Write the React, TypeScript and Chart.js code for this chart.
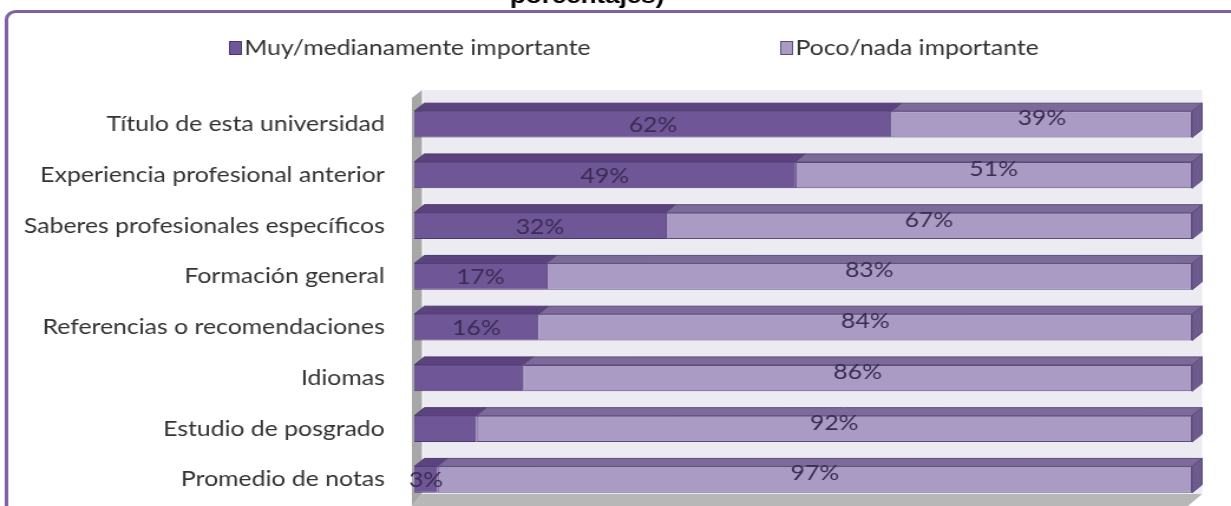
import React, { useEffect, useRef } from "react";
import { Chart, registerables } from "chart.js";

Chart.register(...registerables);

// ---------- data ----------
const categories = [
  "Título de esta universidad",
  "Experiencia profesional anterior",
  "Saberes profesionales específicos",
  "Formación general",
  "Referencias o recomendaciones",
  "Idiomas",
  "Estudio de posgrado",
  "Promedio de notas",
];
const muyValues = [62, 49, 32, 17, 16, 14, 8, 3];
const pocoValues = [39, 51, 67, 83, 84, 86, 92, 97];
const muyLabels = ["62%", "49%", "32%", "17%", "16%", "", "", "3%"];
const pocoLabels = ["39%", "51%", "67%", "83%", "84%", "86%", "92%", "97%"];
const seriesNames = ["Muy/medianamente importante", "Poco/nada importante"];
const titleText = "porcentajes)";

// ---------- styles ----------
// The reference picture is stretched horizontally; the canvas is drawn
// narrower and stretched by CSS to the same ratio.
const VIEW_W = 1231;
const VIEW_H = 506;
const SX = 1.18;
const CANVAS_W = Math.round(VIEW_W / SX);
const FONT = "Lato";
const DX = 8.5;
const DY = -8;
const DARK_FRONT = "#6f5697";
const DARK_TOP = "#5a437f";
const DARK_EDGE = "#4d3a6d";
const LIGHT_FRONT = "#a99bc4";
const LIGHT_TOP = "#7c6b99";
const LIGHT_END = "#6d5b8d";
const LIGHT_EDGE = "#5e4c7f";
const LABEL_COLOR = "#3a2d52";

const totals = muyValues.map((v, i) => v + pocoValues[i]);
const muyShare = muyValues.map((v, i) => (v / totals[i]) * 100);
const pocoShare = pocoValues.map((v, i) => (v / totals[i]) * 100);

const scenePlugin = {
  id: "scene3d",
  beforeDraw(chart: any) {
    const ctx = chart.ctx as CanvasRenderingContext2D;
    const { left, right, top, bottom } = chart.chartArea;
    ctx.save();
    ctx.fillStyle = "#ffffff";
    ctx.fillRect(0, 0, chart.width, chart.height);

    // outer frame
    ctx.strokeStyle = "#7e62a4";
    ctx.lineWidth = 3;
    ctx.beginPath();
    (ctx as any).roundRect(5.5, 11.5, 1400, 700, 8);
    ctx.stroke();

    // title (cut at the top)
    ctx.fillStyle = "#000000";
    ctx.font = "bold 22px 'Liberation Sans'";
    ctx.textAlign = "left";
    ctx.textBaseline = "alphabetic";
    ctx.fillText(titleText, 432, 3);

    // legend
    const legendItems = [
      { x: 194, fill: DARK_FRONT, edge: DARK_EDGE, text: seriesNames[0] },
      { x: 661, fill: LIGHT_FRONT, edge: LIGHT_EDGE, text: seriesNames[1] },
    ];
    ctx.font = `21px ${FONT}`;
    ctx.textBaseline = "middle";
    for (const it of legendItems) {
      ctx.fillStyle = it.fill;
      ctx.fillRect(it.x, 41, 11, 14);
      ctx.strokeStyle = it.edge;
      ctx.lineWidth = 1;
      ctx.strokeRect(it.x + 0.5, 41.5, 10, 13);
      ctx.fillStyle = "#333333";
      ctx.fillText(it.text, it.x + 13, 48);
    }

    // walls
    const wallTop = top - 9;
    const floorBack = bottom - 11;
    const floorFront = chart.height;
    // back wall
    ctx.fillStyle = "#ecebf1";
    ctx.fillRect(left + DX - 1, wallTop, right - left + 1, floorBack - wallTop);
    // side wall
    ctx.fillStyle = "#a7a7a7";
    ctx.beginPath();
    ctx.moveTo(left - 2, wallTop - DY);
    ctx.lineTo(left - 2 + DX, wallTop);
    ctx.lineTo(left - 2 + DX, floorBack);
    ctx.lineTo(left - 2, floorFront);
    ctx.closePath();
    ctx.fill();
    // floor
    ctx.fillStyle = "#b7b7b7";
    ctx.beginPath();
    ctx.moveTo(left - 2, floorFront);
    ctx.lineTo(left - 2 + DX, floorBack);
    ctx.lineTo(right + DX, floorBack);
    ctx.lineTo(right + DX - 12, floorFront);
    ctx.closePath();
    ctx.fill();
    ctx.restore();
  },
  afterDatasetsDraw(chart: any) {
    const ctx = chart.ctx as CanvasRenderingContext2D;
    const nSets = chart.data.datasets.length;
    ctx.save();
    // 3D faces
    for (let d = 0; d < nSets; d++) {
      const meta = chart.getDatasetMeta(d);
      meta.data.forEach((el: any) => {
        const { x, y, base, height } = el.getProps(["x", "y", "base", "height"], true);
        const t = y - height / 2;
        const b = y + height / 2;
        ctx.fillStyle = d === 0 ? DARK_TOP : LIGHT_TOP;
        ctx.beginPath();
        ctx.moveTo(base, t);
        ctx.lineTo(base + DX, t + DY);
        ctx.lineTo(x + DX, t + DY);
        ctx.lineTo(x, t);
        ctx.closePath();
        ctx.fill();
        ctx.strokeStyle = d === 0 ? DARK_EDGE : LIGHT_EDGE;
        ctx.lineWidth = 1;
        ctx.stroke();
        if (d === nSets - 1) {
          ctx.fillStyle = LIGHT_END;
          ctx.beginPath();
          ctx.moveTo(x, t);
          ctx.lineTo(x + DX, t + DY);
          ctx.lineTo(x + DX, b + DY);
          ctx.lineTo(x, b);
          ctx.closePath();
          ctx.fill();
          ctx.stroke();
        }
      });
    }
    // data labels
    ctx.font = `21px ${FONT}`;
    ctx.fillStyle = LABEL_COLOR;
    ctx.textAlign = "center";
    ctx.textBaseline = "middle";
    const labelSets = [muyLabels, pocoLabels];
    for (let d = 0; d < nSets; d++) {
      const meta = chart.getDatasetMeta(d);
      meta.data.forEach((el: any, i: number) => {
        const txt = labelSets[d][i];
        if (!txt) return;
        const { x, y, base } = el.getProps(["x", "y", "base"], true);
        const cx = (x + base) / 2;
        const cy = d === 0 ? y + 1 : y - 6;
        ctx.fillText(txt, cx, cy);
      });
    }
    ctx.restore();
  },
};

export default function App() {
  const ref = useRef<HTMLCanvasElement | null>(null);
  useEffect(() => {
    if (!ref.current) return;
    const chart = new Chart(ref.current, {
      type: "bar",
      data: {
        labels: categories,
        datasets: [
          {
            label: seriesNames[0],
            data: muyShare,
            backgroundColor: DARK_FRONT,
            borderColor: DARK_EDGE,
            borderWidth: { top: 0, bottom: 1, left: 0, right: 0 },
            borderSkipped: false,
          },
          {
            label: seriesNames[1],
            data: pocoShare,
            backgroundColor: LIGHT_FRONT,
            borderColor: LIGHT_EDGE,
            borderWidth: 1,
            borderSkipped: false,
          },
        ],
      },
      options: {
        indexAxis: "y",
        responsive: false,
        animation: false,
        layout: { padding: { top: 99, bottom: 1, right: 33, left: 0 } },
        datasets: { bar: { categoryPercentage: 1, barPercentage: 0.52 } },
        plugins: { legend: { display: false }, title: { display: false }, tooltip: { enabled: false } },
        scales: {
          x: { stacked: true, min: 0, max: 100, display: false },
          y: {
            stacked: true,
            grid: { display: false, drawTicks: true, tickLength: 25 },
            border: { display: false },
            ticks: { color: "#333333", font: { family: FONT, size: 21 }, padding: 0 },
            afterFit: (scale: any) => {
              scale.width = 351;
              scale.paddingTop = 0;
              scale.paddingBottom = 0;
            },
          },
        },
      },
      plugins: [scenePlugin],
    });
    return () => chart.destroy();
  }, []);
  return (
    <div style={{ position: "fixed", left: 0, top: 0, width: VIEW_W, height: VIEW_H, overflow: "hidden" }}>
      <canvas
        ref={ref}
        width={CANVAS_W}
        height={VIEW_H}
        style={{ display: "block", width: `${VIEW_W}px`, height: `${VIEW_H}px` }}
      />
    </div>
  );
}
